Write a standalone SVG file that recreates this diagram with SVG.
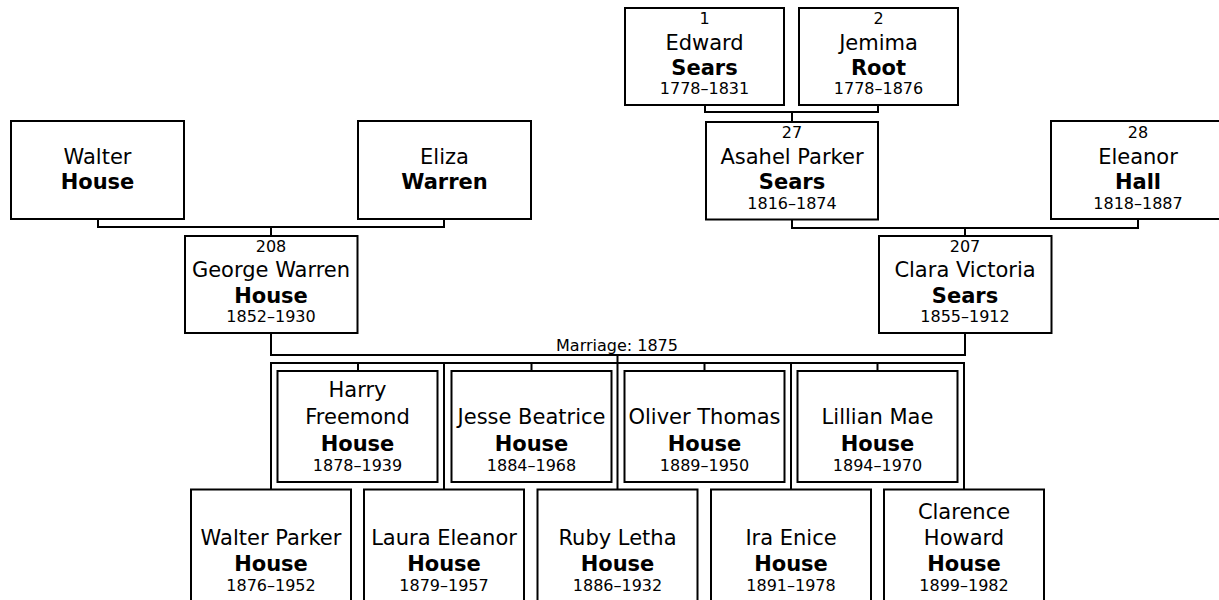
<svg xmlns="http://www.w3.org/2000/svg" width="1219" height="600" viewBox="0 0 1219 600">
<style>
.box{fill:#fff;stroke:#000;stroke-width:2}
.ln{fill:none;stroke:#000;stroke-width:2}
text{font-family:"DejaVu Sans","Verdana",sans-serif;fill:#000;text-anchor:middle}
.nm{font-size:21px}
.sn{font-size:21px;font-weight:bold}
.sm{font-size:16px}
</style>
<rect width="1219" height="600" fill="#fff"/>
<g id="connectors">
<path class="ln" d="M705,105V112H878V105M792,112V122"/>
<path class="ln" d="M98,219V227H444V219M271,227V236"/>
<path class="ln" d="M792,219.5V228H1138V219M965,228V236"/>
<path class="ln" d="M271,333V355H965V333"/>
<text class="sm" x="617" y="350.5">Marriage: 1875</text>
<path class="ln" d="M271,489.5V363H964V489.5M617.5,355V489.5M444,363V489.5M791,363V489.5"/>
<path class="ln" d="M358,363V371M531.5,363V371M704.5,363V371M877.5,363V371"/>
</g>
<g id="p1"><rect class="box" x="625" y="8" width="159" height="97"/>
<text class="sm" x="704.5" y="24">1</text><text class="nm" x="704.5" y="50">Edward</text><text class="sn" x="704.5" y="75">Sears</text><text class="sm" x="704.5" y="94">1778–1831</text></g>
<g id="p2"><rect class="box" x="799" y="8" width="159" height="97"/>
<text class="sm" x="878.5" y="24">2</text><text class="nm" x="878.5" y="50">Jemima</text><text class="sn" x="878.5" y="75">Root</text><text class="sm" x="878.5" y="94">1778–1876</text></g>
<g id="p27"><rect class="box" x="706" y="122" width="172" height="97.5"/>
<text class="sm" x="792" y="138">27</text><text class="nm" x="792" y="163.5">Asahel Parker</text><text class="sn" x="792" y="189">Sears</text><text class="sm" x="792" y="208.5">1816–1874</text></g>
<g id="p28"><rect class="box" x="1051" y="121" width="173" height="98"/>
<text class="sm" x="1138" y="138">28</text><text class="nm" x="1138" y="163.5">Eleanor</text><text class="sn" x="1138" y="189">Hall</text><text class="sm" x="1138" y="208.5">1818–1887</text></g>
<g id="walter"><rect class="box" x="11" y="121" width="173" height="98"/>
<text class="nm" x="97.5" y="163.5">Walter</text><text class="sn" x="97.5" y="189">House</text></g>
<g id="eliza"><rect class="box" x="358" y="121" width="173" height="98"/>
<text class="nm" x="444.5" y="163.5">Eliza</text><text class="sn" x="444.5" y="189">Warren</text></g>
<g id="p208"><rect class="box" x="185" y="236" width="172.5" height="97"/>
<text class="sm" x="271" y="252">208</text><text class="nm" x="271" y="277">George Warren</text><text class="sn" x="271" y="302.5">House</text><text class="sm" x="271" y="322">1852–1930</text></g>
<g id="p207"><rect class="box" x="879" y="236" width="172.5" height="97"/>
<text class="sm" x="965" y="252">207</text><text class="nm" x="965" y="277">Clara Victoria</text><text class="sn" x="965" y="302.5">Sears</text><text class="sm" x="965" y="322">1855–1912</text></g>
<g id="harry"><rect class="box" x="277.5" y="371" width="160" height="111"/>
<text class="nm" x="357.5" y="397">Harry</text><text class="nm" x="357.5" y="424">Freemond</text><text class="sn" x="357.5" y="451">House</text><text class="sm" x="357.5" y="471">1878–1939</text></g>
<g id="jesse"><rect class="box" x="451.5" y="371" width="160" height="111"/>
<text class="nm" x="531.5" y="424">Jesse Beatrice</text><text class="sn" x="531.5" y="451">House</text><text class="sm" x="531.5" y="471">1884–1968</text></g>
<g id="oliver"><rect class="box" x="624.5" y="371" width="160" height="111"/>
<text class="nm" x="704.5" y="424">Oliver Thomas</text><text class="sn" x="704.5" y="451">House</text><text class="sm" x="704.5" y="471">1889–1950</text></g>
<g id="lillian"><rect class="box" x="797.5" y="371" width="160" height="111"/>
<text class="nm" x="877.5" y="424">Lillian Mae</text><text class="sn" x="877.5" y="451">House</text><text class="sm" x="877.5" y="471">1894–1970</text></g>
<g id="walterp"><rect class="box" x="191" y="489.5" width="160" height="112"/>
<text class="nm" x="271" y="545">Walter Parker</text><text class="sn" x="271" y="570.5">House</text><text class="sm" x="271" y="591">1876–1952</text></g>
<g id="laura"><rect class="box" x="364" y="489.5" width="160" height="112"/>
<text class="nm" x="444" y="545">Laura Eleanor</text><text class="sn" x="444" y="570.5">House</text><text class="sm" x="444" y="591">1879–1957</text></g>
<g id="ruby"><rect class="box" x="537.5" y="489.5" width="160" height="112"/>
<text class="nm" x="617.5" y="545">Ruby Letha</text><text class="sn" x="617.5" y="570.5">House</text><text class="sm" x="617.5" y="591">1886–1932</text></g>
<g id="ira"><rect class="box" x="711" y="489.5" width="160" height="112"/>
<text class="nm" x="791" y="545">Ira Enice</text><text class="sn" x="791" y="570.5">House</text><text class="sm" x="791" y="591">1891–1978</text></g>
<g id="clarence"><rect class="box" x="884" y="489.5" width="160" height="112"/>
<text class="nm" x="964" y="518.5">Clarence</text><text class="nm" x="964" y="545">Howard</text><text class="sn" x="964" y="570.5">House</text><text class="sm" x="964" y="591">1899–1982</text></g>
</svg>
